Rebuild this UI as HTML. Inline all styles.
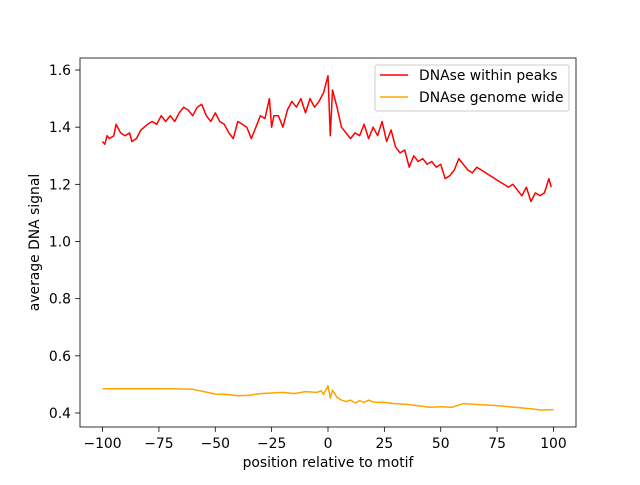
<!DOCTYPE html>
<html><head><meta charset="utf-8"><style>
body{margin:0;background:#fff;}
text{font-family:"DejaVu Sans","Liberation Sans",sans-serif;}
</style></head><body>
<svg id="chart" width="640" height="480" xmlns="http://www.w3.org/2000/svg"></svg>
<script>
const redX=[-100,-99,-98,-97,-95,-94,-92,-90,-88,-87,-85,-83,-80,-78,-76,-74,-72,-70,-68,-66,-64,-62,-60,-58,-56,-54,-52,-50,-48,-46,-44,-42,-40,-38,-36,-34,-32,-30,-28,-26,-25,-24,-22,-20,-18,-16,-14,-12,-10,-8,-6,-4,-2,0,1,2,4,6,8,10,12,14,16,18,20,22,24,26,28,30,32,34,36,38,40,42,44,46,48,50,52,54,56,58,60,62,64,66,68,70,72,74,76,78,80,82,84,86,88,90,92,94,96,98,99];
const redY=[1.35,1.34,1.37,1.36,1.37,1.41,1.38,1.37,1.38,1.35,1.36,1.39,1.41,1.42,1.41,1.44,1.42,1.44,1.42,1.45,1.47,1.46,1.44,1.47,1.48,1.44,1.42,1.45,1.42,1.41,1.38,1.36,1.42,1.41,1.40,1.36,1.40,1.44,1.43,1.50,1.40,1.44,1.44,1.40,1.46,1.49,1.47,1.50,1.45,1.50,1.47,1.49,1.52,1.58,1.37,1.53,1.47,1.40,1.38,1.36,1.38,1.37,1.41,1.36,1.40,1.37,1.42,1.35,1.39,1.33,1.31,1.32,1.26,1.30,1.28,1.29,1.27,1.28,1.26,1.27,1.22,1.23,1.25,1.29,1.27,1.25,1.24,1.26,1.25,1.24,1.23,1.22,1.21,1.20,1.19,1.20,1.18,1.16,1.19,1.14,1.17,1.16,1.17,1.22,1.19];
const orX=[-100,-90,-80,-70,-60,-55,-50,-45,-40,-35,-30,-25,-20,-15,-10,-5,-3,-2,0,1,2,4,6,8,10,12,14,16,18,20,25,30,35,40,45,50,55,60,65,70,75,80,85,90,95,100];
const orY=[0.485,0.485,0.485,0.485,0.483,0.475,0.466,0.465,0.460,0.462,0.468,0.470,0.472,0.468,0.475,0.472,0.478,0.465,0.495,0.452,0.480,0.455,0.445,0.440,0.445,0.435,0.443,0.437,0.445,0.438,0.437,0.432,0.430,0.425,0.420,0.422,0.420,0.433,0.430,0.428,0.426,0.422,0.418,0.415,0.410,0.412];
const xTicks=[-100,-75,-50,-25,0,25,50,75,100];
const yTicks=[0.4,0.6,0.8,1.0,1.2,1.4,1.6];
const L=80,R=576,T=58,B=427,x0=-110,x1=110,y0=0.351,y1=1.642;
const FS=13.9;
const sx=v=>L+(v-x0)/(x1-x0)*(R-L);
const sy=v=>B-(v-y0)/(y1-y0)*(B-T);
const svg=document.getElementById('chart');
const NS='http://www.w3.org/2000/svg';
function mk(tag,attrs,txt){const e=document.createElementNS(NS,tag);for(const k in attrs)e.setAttribute(k,attrs[k]);if(txt!==undefined)e.textContent=txt;svg.appendChild(e);return e;}
function line(xs,ys,color,name){const d=xs.map((x,i)=>(i?'L':'M')+sx(x).toFixed(1)+','+sy(ys[i]).toFixed(1)).join('');const p=mk('path',{d:d,fill:'none',stroke:color,'stroke-width':1.5,'stroke-linejoin':'round'});

}
line(orX,orY,'#ffa500','series-genome-wide');
line(redX,redY,'#ff0000','series-within-peaks');
const frame=mk('rect',{x:L,y:T,width:R-L,height:B-T,fill:'none',stroke:'#000','stroke-width':0.8});


xTicks.forEach(t=>{const X=sx(t);mk('line',{x1:X,x2:X,y1:B,y2:B+4.9,stroke:'#000','stroke-width':0.8});const tx=mk('text',{x:X,y:B+21,'text-anchor':'middle','font-size':FS},t<0?'\u2212'+(-t):String(t));

});
yTicks.forEach(t=>{const Y=sy(t);mk('line',{x1:L-4.9,x2:L,y1:Y,y2:Y,stroke:'#000','stroke-width':0.8});const tx=mk('text',{x:L-9,y:Y+5,'text-anchor':'end','font-size':FS},t.toFixed(1));

});
const xl=mk('text',{x:(L+R)/2,y:467,'text-anchor':'middle','font-size':FS},'position relative to motif');


const yl=mk('text',{x:39,y:(T+B)/2,'text-anchor':'middle','font-size':FS,transform:'rotate(-90 39 '+(T+B)/2+')'},'average DNA signal');


const lg=mk('rect',{x:375,y:65,width:194,height:46,rx:2,fill:'#fff','fill-opacity':0.8,stroke:'#ccc'});


mk('line',{x1:380,x2:408,y1:75,y2:75,stroke:'#ff0000','stroke-width':1.5});
const l1=mk('text',{x:419,y:80,'font-size':FS},'DNAse within peaks');


mk('line',{x1:380,x2:408,y1:97,y2:97,stroke:'#ffa500','stroke-width':1.5});
const l2=mk('text',{x:419,y:102,'font-size':FS},'DNAse genome wide');


</script>
</body></html>
